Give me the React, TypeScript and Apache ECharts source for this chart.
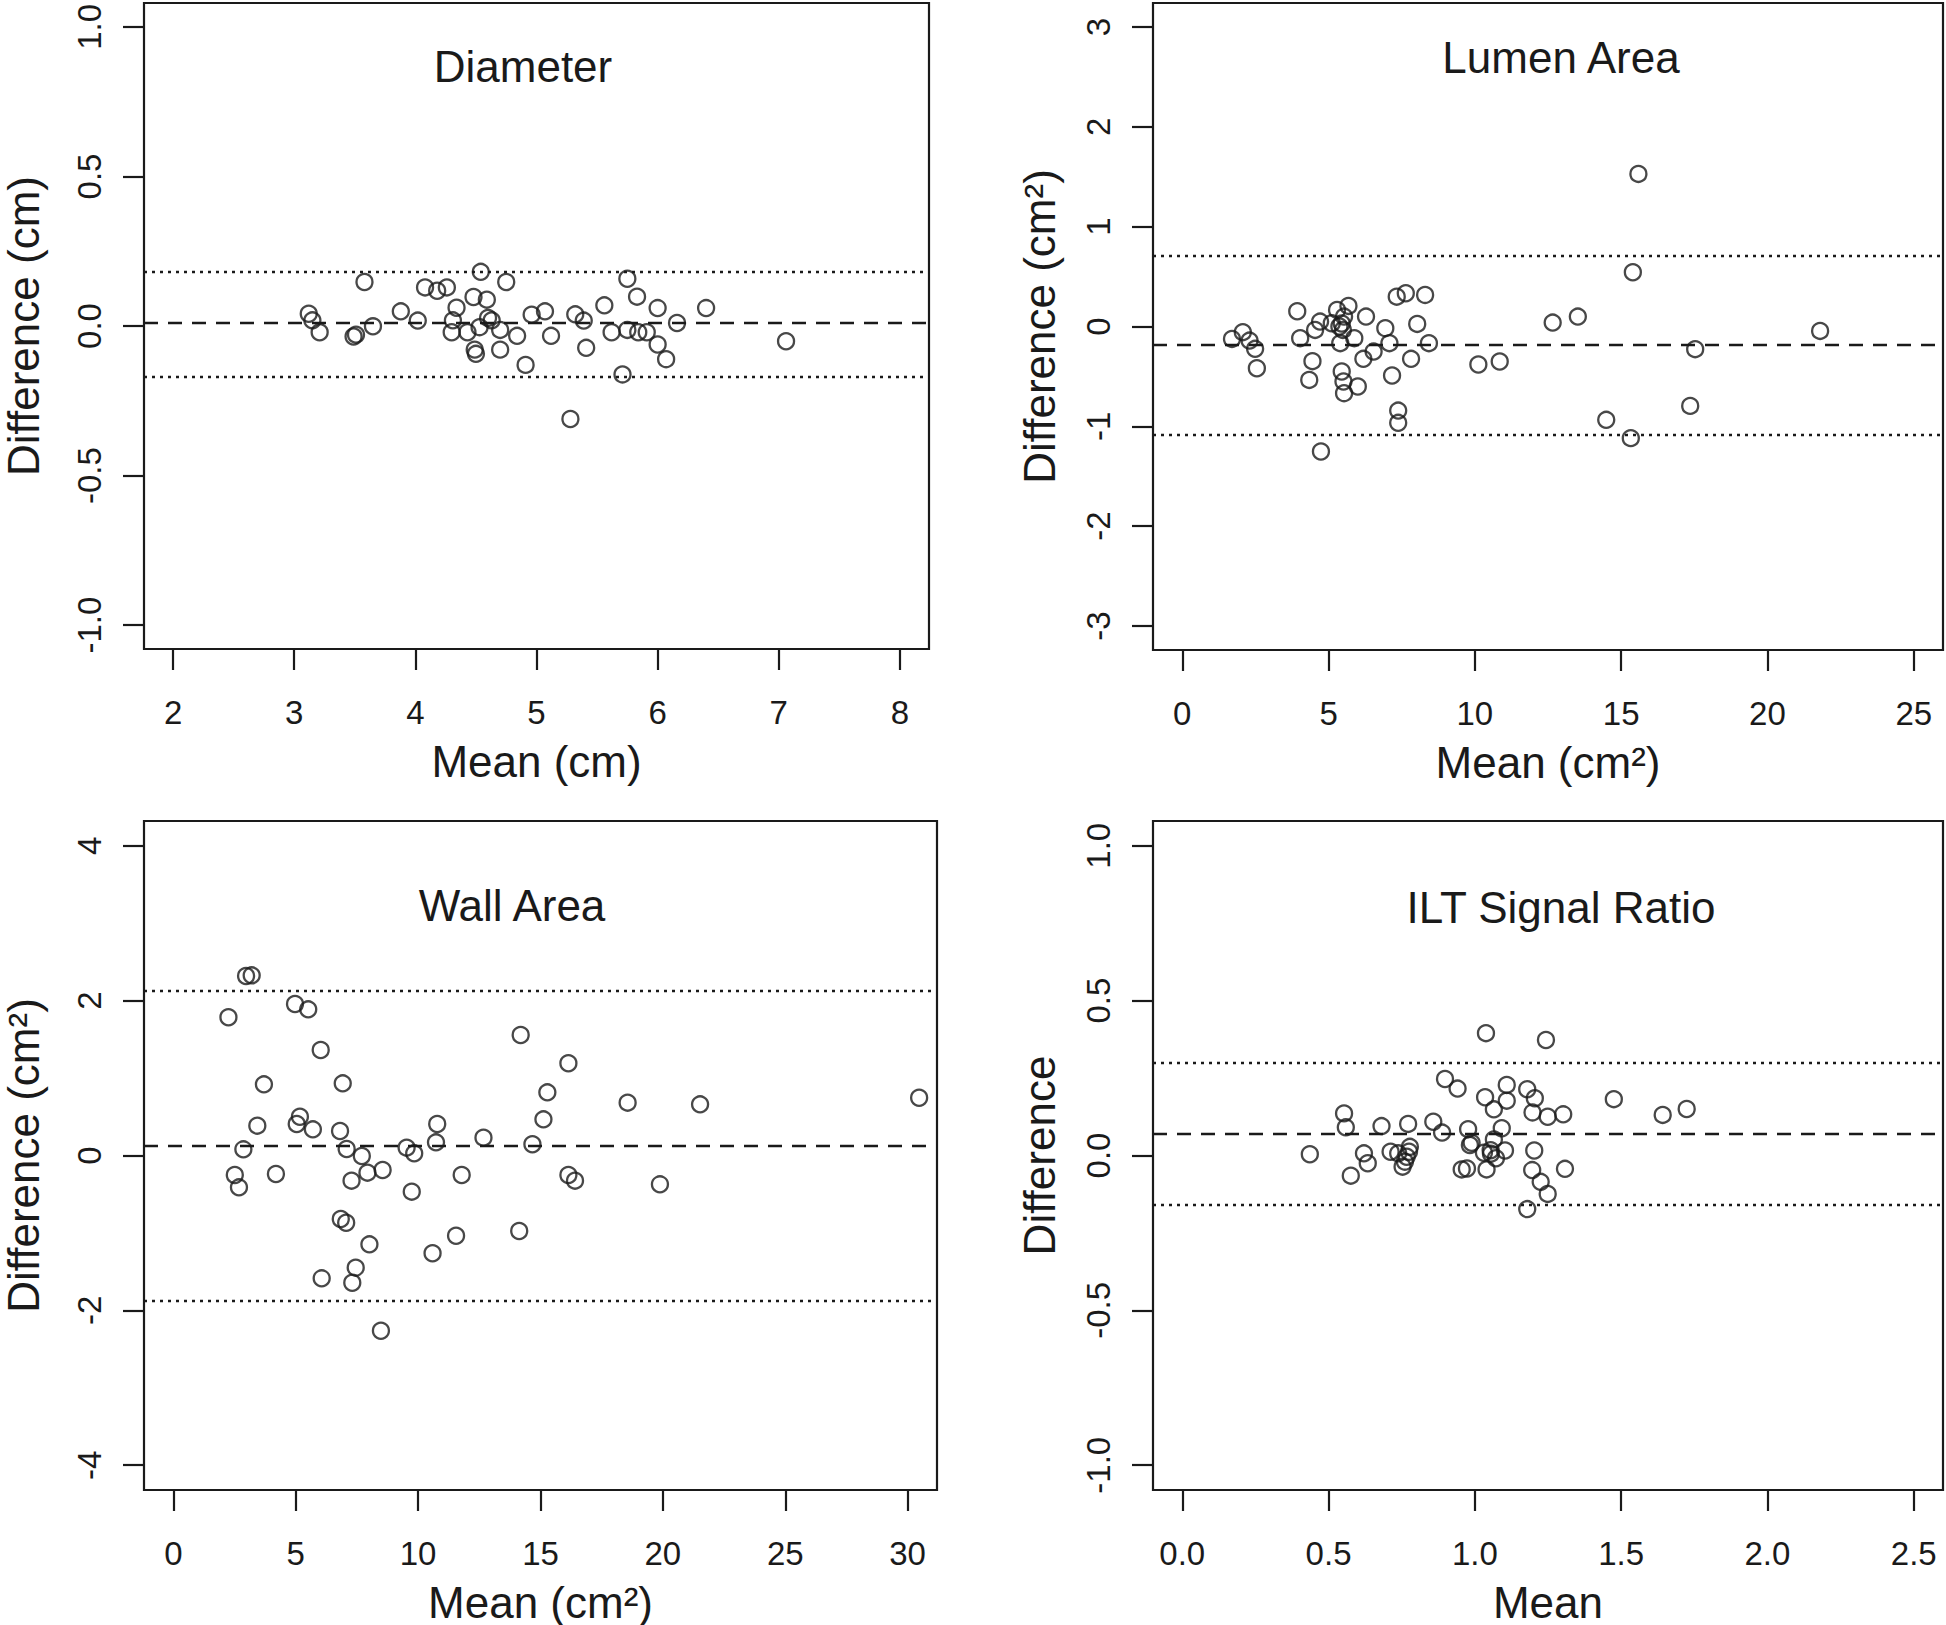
import React, { useEffect, useRef } from "react";
import * as echarts from "echarts";

// ---------- Data ----------
// Diameter
const diameterMean = [3.12, 3.15, 3.21, 3.49, 3.51, 3.58, 3.65, 3.88, 4.02, 4.08, 4.18, 4.26, 4.30, 4.31, 4.34, 4.43, 4.48, 4.49, 4.50, 4.53, 4.54, 4.59, 4.60, 4.63, 4.70, 4.70, 4.75, 4.84, 4.91, 4.96, 5.07, 5.12, 5.28, 5.32, 5.39, 5.41, 5.56, 5.62, 5.71, 5.75, 5.75, 5.83, 5.84, 5.91, 6.00, 6.00, 6.07, 6.16, 6.40, 7.06];
const diameterDiff = [0.041, 0.019, -0.021, -0.035, -0.029, 0.147, -0.001, 0.049, 0.018, 0.129, 0.118, 0.129, -0.021, 0.019, 0.061, -0.021, 0.097, -0.079, -0.093, -0.004, 0.181, 0.088, 0.027, 0.019, -0.013, -0.079, 0.147, -0.033, -0.130, 0.038, 0.049, -0.033, -0.311, 0.039, 0.018, -0.073, 0.069, -0.021, -0.162, 0.158, -0.013, 0.098, -0.021, -0.021, 0.060, -0.062, -0.111, 0.010, 0.060, -0.051];
const diameterBias = 0.011;
const diameterLimits = [0.184, -0.168];
const diameterXTicks = [2, 3, 4, 5, 6, 7, 8];
const diameterYTicks = [-1, -0.5, 0, 0.5, 1];

// Lumen Area
const lumenMean = [1.70, 2.07, 2.30, 2.49, 2.55, 3.93, 4.03, 4.45, 4.34, 4.54, 4.71, 4.74, 5.11, 5.29, 5.37, 5.45, 5.40, 5.45, 5.51, 5.53, 5.49, 5.53, 5.68, 5.88, 6.00, 6.28, 6.19, 6.54, 6.94, 7.08, 7.17, 7.33, 7.64, 7.38, 7.38, 7.82, 8.03, 8.30, 8.43, 10.12, 10.85, 15.59, 15.40, 12.66, 13.52, 17.53, 21.80, 17.36, 14.49, 15.33];
const lumenDiff = [-0.124, -0.057, -0.141, -0.224, -0.418, 0.153, -0.117, -0.347, -0.535, -0.034, 0.049, -1.252, 0.033, 0.166, 0.0, 0.03, -0.167, -0.451, -0.551, -0.668, -0.034, 0.099, 0.206, -0.117, -0.601, 0.099, -0.324, -0.251, -0.017, -0.167, -0.491, 0.299, 0.333, -0.842, -0.965, -0.324, 0.026, 0.316, -0.167, -0.381, -0.351, 1.528, 0.543, 0.039, 0.099, -0.227, -0.044, -0.795, -0.935, -1.118];
const lumenBias = -0.177;
const lumenLimits = [0.713, -1.085];
const lumenXTicks = [0, 5, 10, 15, 20, 25];
const lumenYTicks = [-3, -2, -1, 0, 1, 2, 3];

// Wall Area
const wallMean = [2.97, 3.20, 2.25, 4.97, 5.51, 6.02, 3.70, 6.92, 3.43, 5.17, 5.04, 5.70, 6.81, 2.86, 7.08, 7.70, 2.51, 2.68, 4.19, 7.28, 7.93, 8.55, 9.53, 9.84, 9.74, 10.78, 10.73, 11.78, 12.67, 6.84, 7.06, 8.01, 7.45, 7.31, 6.06, 8.48, 10.59, 11.55, 14.13, 14.19, 16.14, 15.28, 15.12, 14.67, 16.14, 16.41, 18.56, 21.52, 30.47, 19.88];
const wallDiff = [2.318, 2.327, 1.785, 1.957, 1.888, 1.362, 0.919, 0.932, 0.385, 0.501, 0.407, 0.338, 0.316, 0.080, 0.084, -0.006, -0.252, -0.411, -0.239, -0.325, -0.222, -0.187, 0.101, 0.028, -0.467, 0.407, 0.170, -0.252, 0.230, -0.820, -0.868, -1.147, -1.449, -1.643, -1.586, -2.263, -1.263, -1.036, -0.975, 1.556, 1.191, 0.816, 0.467, 0.145, -0.252, -0.325, 0.682, 0.661, 0.746, -0.372];
const wallBias = 0.127;
const wallLimits = [2.129, -1.875];
const wallXTicks = [0, 5, 10, 15, 20, 25, 30];
const wallYTicks = [-4, -2, 0, 2, 4];

// ILT Signal Ratio
const iltMean = [0.436, 0.553, 0.559, 0.576, 0.621, 0.634, 0.681, 0.712, 0.738, 0.753, 0.761, 0.772, 0.778, 0.775, 0.767, 0.858, 0.888, 0.898, 0.941, 0.955, 0.973, 0.977, 0.983, 0.989, 1.038, 1.035, 1.040, 1.031, 1.054, 1.065, 1.065, 1.072, 1.055, 1.092, 1.103, 1.109, 1.109, 1.179, 1.205, 1.197, 1.203, 1.196, 1.225, 1.249, 1.179, 1.243, 1.249, 1.302, 1.308, 1.475, 1.642, 1.724];
const iltDiff = [0.004, 0.136, 0.091, -0.065, 0.007, -0.025, 0.095, 0.012, 0.007, -0.036, -0.020, 0.102, 0.028, 0.012, -0.004, 0.109, 0.074, 0.247, 0.216, -0.045, -0.042, 0.085, 0.034, 0.041, 0.395, 0.188, -0.045, 0.009, 0.017, 0.052, 0.149, -0.009, 0.006, 0.088, 0.016, 0.228, 0.177, 0.214, 0.185, 0.139, 0.016, -0.047, -0.085, -0.124, -0.173, 0.373, 0.125, 0.133, -0.043, 0.182, 0.131, 0.150];
const iltBias = 0.069;
const iltLimits = [0.298, -0.157];
const iltXTicks = [0, 0.5, 1, 1.5, 2, 2.5];
const iltYTicks = [-1, -0.5, 0, 0.5, 1];

// ---------- Layout / style ----------
const FONT = '"Liberation Sans", Arial, Helvetica, sans-serif';
const INK = "#1a1a1a";

const fmt1 = (v: number) => v.toFixed(1);
const fmt0 = (v: number) => String(v);

const panels = [
  {
    title: "Diameter", titleX: 523, titleY: 66,
    mean: diameterMean, diff: diameterDiff, bias: diameterBias, limits: diameterLimits,
    xTicks: diameterXTicks, yTicks: diameterYTicks, xFmt: fmt0, yFmt: fmt1,
    xMin: 1.76, xMax: 8.24, yMin: -1.08, yMax: 1.08,
    left: 143, top: 3, width: 786, height: 646,
    xName: "Mean (cm)", yName: "Difference (cm)", yNameGap: 99,
  },
  {
    title: "Lumen Area", titleX: 1561, titleY: 57,
    mean: lumenMean, diff: lumenDiff, bias: lumenBias, limits: lumenLimits,
    xTicks: lumenXTicks, yTicks: lumenYTicks, xFmt: fmt0, yFmt: fmt0,
    xMin: -1, xMax: 26, yMin: -3.24, yMax: 3.24,
    left: 1153, top: 3, width: 790, height: 647,
    xName: "Mean (cm²)", yName: "Difference (cm²)", yNameGap: 92,
  },
  {
    title: "Wall Area", titleX: 512, titleY: 905,
    mean: wallMean, diff: wallDiff, bias: wallBias, limits: wallLimits,
    xTicks: wallXTicks, yTicks: wallYTicks, xFmt: fmt0, yFmt: fmt0,
    xMin: -1.2, xMax: 31.2, yMin: -4.32, yMax: 4.32,
    left: 144, top: 821, width: 793, height: 669,
    xName: "Mean (cm²)", yName: "Difference (cm²)", yNameGap: 99,
  },
  {
    title: "ILT Signal Ratio", titleX: 1561, titleY: 907,
    mean: iltMean, diff: iltDiff, bias: iltBias, limits: iltLimits,
    xTicks: iltXTicks, yTicks: iltYTicks, xFmt: fmt1, yFmt: fmt1,
    xMin: -0.1, xMax: 2.6, yMin: -1.08, yMax: 1.08,
    left: 1153, top: 821, width: 790, height: 669,
    xName: "Mean", yName: "Difference", yNameGap: 92,
  },
];

export default function App() {
  const ref = useRef<HTMLDivElement>(null);

  useEffect(() => {
    if (!ref.current) return;
    const chart = echarts.init(ref.current, null, { renderer: "svg" });

    const tickStyle = { color: INK, width: 2.2 };
    const option: any = {
      animation: false,
      backgroundColor: "#ffffff",
      grid: panels.map((p) => ({
        left: p.left, top: p.top, width: p.width, height: p.height,
        show: true, borderColor: INK, borderWidth: 2.2, backgroundColor: "transparent",
      })),
      xAxis: panels.map((p, i) => ({
        type: "value", gridIndex: i, min: p.xMin, max: p.xMax,
        axisLine: { show: false, onZero: false },
        splitLine: { show: false },
        axisTick: { show: true, inside: false, length: 21, lineStyle: tickStyle, customValues: p.xTicks },
        axisLabel: {
          customValues: p.xTicks, formatter: p.xFmt, fontSize: 33, color: INK,
          fontFamily: FONT, margin: 47,
        },
        name: p.xName, nameLocation: "middle", nameGap: 90,
        nameTextStyle: { fontSize: 44, color: INK, fontFamily: FONT },
      })),
      yAxis: panels.map((p, i) => ({
        type: "value", gridIndex: i, min: p.yMin, max: p.yMax,
        axisLine: { show: false, onZero: false },
        splitLine: { show: false },
        axisTick: { show: true, inside: false, length: 21, lineStyle: tickStyle, customValues: p.yTicks },
        axisLabel: {
          customValues: p.yTicks, formatter: p.yFmt, fontSize: 33, color: INK,
          fontFamily: FONT, margin: 38, rotate: 90,
        },
        name: p.yName, nameLocation: "middle", nameGap: p.yNameGap, nameRotate: 90,
        nameTextStyle: { fontSize: 44, color: INK, fontFamily: FONT },
      })),
      series: panels.map((p, i) => ({
        type: "scatter", xAxisIndex: i, yAxisIndex: i,
        data: p.mean.map((m, k) => [m, p.diff[k]]),
        symbol: "circle", symbolSize: 16,
        itemStyle: { color: "rgba(0,0,0,0)", borderColor: INK, borderWidth: 2.3 },
        silent: true,
        markLine: {
          silent: true, symbol: ["none", "none"], label: { show: false },
          lineStyle: { color: INK, width: 2.4 },
          data: [
            { yAxis: p.bias, lineStyle: { type: [14, 10], color: INK, width: 2.4 } },
            { yAxis: p.limits[0], lineStyle: { type: [3, 5], color: INK, width: 2.4 } },
            { yAxis: p.limits[1], lineStyle: { type: [3, 5], color: INK, width: 2.4 } },
          ],
        },
      })),
      graphic: panels.map((p) => ({
        type: "text", x: p.titleX, y: p.titleY, silent: true,
        style: {
          text: p.title, fontSize: 44, fill: INK, fontFamily: FONT,
          align: "center", verticalAlign: "middle",
        },
      })),
    };

    chart.setOption(option);
    return () => chart.dispose();
  }, []);

  return (
    <div
      ref={ref}
      style={{ position: "absolute", left: 0, top: 0, width: 1946, height: 1625, background: "#fff" }}
    />
  );
}
